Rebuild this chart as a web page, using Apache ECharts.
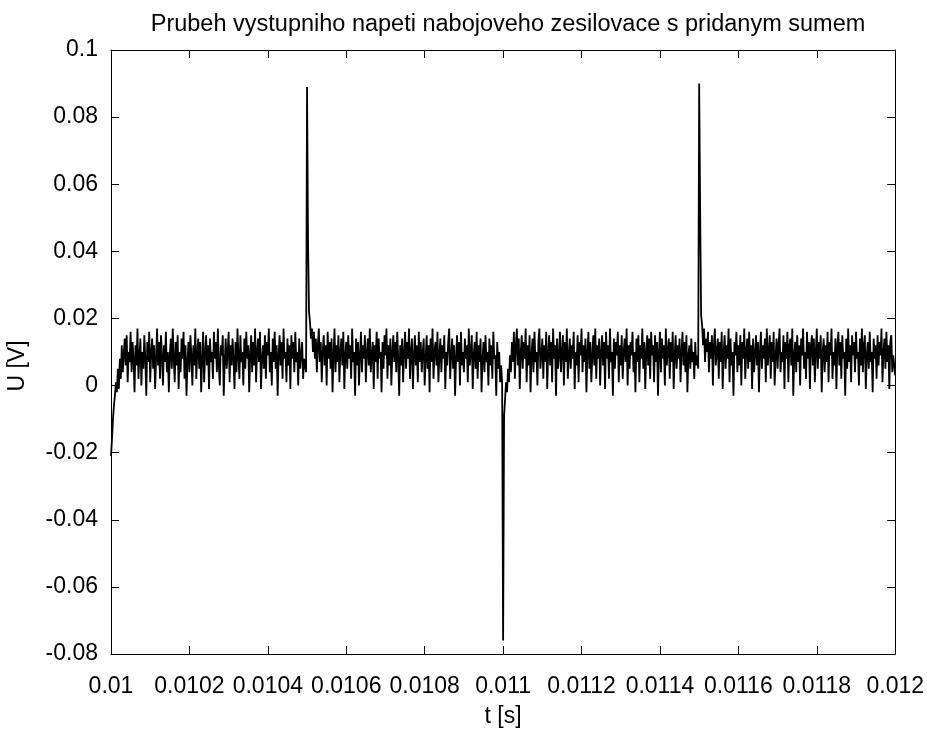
<!DOCTYPE html>
<html>
<head>
<meta charset="utf-8">
<title>Prubeh vystupniho napeti</title>
<script src="https://cdn.jsdelivr.net/npm/echarts@6/dist/echarts.min.js"></script>
<style>
  html, body { margin: 0; padding: 0; background: #fff; }
  #chart { width: 927px; height: 733px; }
</style>
</head>
<body>
<div id="chart"></div>
<script>
// Output voltage of the charge amplifier with added noise
const titleText = 'Prubeh vystupniho napeti nabojoveho zesilovace s pridanym sumem';
const xName = 't [s]';
const yName = 'U [V]';

// sampling: first sample time and step [s]
const t0 = 0.01;
const dt = 0.0000025;

// axis ranges and tick spacing
const xRange = [0.01, 0.012];
const xStep = 0.0002;
const yRange = [-0.08, 0.1];
const yStep = 0.02;

// measured output voltage [V], one value per sample
const u = [
  -0.021, -0.016, -0.010, -0.006, -0.003, 0.001, -0.002, 0.005, -0.001, 0.008, 0.002, 0.012, 0.004, 0.009, 0.014, 0.006, 0.015, 0.001, 0.010, 0.007,
  0.016, 0.004, 0.013, 0.008, -0.002, 0.012, 0.006, 0.017, 0.002, 0.009, 0.014, 0.000, 0.010, 0.005, 0.015, 0.008, -0.003, 0.013, 0.007, 0.016,
  0.001, 0.010, 0.014, 0.005, 0.012, -0.001, 0.008, 0.017, 0.006, 0.013, 0.002, 0.015, 0.009, 0.000, 0.012, 0.007, 0.016, 0.004, 0.010, -0.002,
  0.009, 0.014, 0.005, 0.017, 0.008, 0.001, 0.013, 0.006, 0.015, -0.001, 0.010, 0.004, 0.014, 0.008, 0.016, 0.002, 0.012, -0.003, 0.007, 0.013,
  0.004, 0.015, 0.009, 0.000, 0.012, 0.006, 0.017, 0.002, 0.010, 0.014, 0.005, 0.013, -0.002, 0.008, 0.016, 0.001, 0.009, 0.015, 0.006, 0.012,
  -0.001, 0.014, 0.007, 0.010, 0.002, 0.016, 0.008, 0.013, 0.004, 0.017, 0.006, 0.000, 0.012, 0.009, 0.015, -0.003, 0.007, 0.014, 0.005, 0.010,
  0.016, 0.001, 0.012, 0.006, 0.014, 0.008, -0.001, 0.013, 0.004, 0.017, 0.009, 0.002, 0.015, 0.007, 0.010, 0.000, 0.014, 0.005, 0.016, 0.008,
  0.012, -0.002, 0.009, 0.015, 0.004, 0.013, 0.006, 0.017, 0.001, 0.010, 0.014, 0.007, 0.016, -0.001, 0.008, 0.012, 0.005, 0.015, 0.002, 0.013,
  0.009, 0.017, 0.004, 0.010, 0.000, 0.014, 0.007, 0.016, 0.005, 0.012, -0.003, 0.009, 0.015, 0.006, 0.013, 0.002, 0.017, 0.008, 0.010, 0.001,
  0.014, 0.006, 0.012, -0.001, 0.015, 0.008, 0.013, 0.004, 0.016, 0.007, 0.010, 0.000, 0.014, 0.005, 0.009, 0.013, 0.002, 0.008, 0.006, 0.004,
  0.089, 0.043, 0.022, 0.019, 0.014, 0.017, 0.010, 0.016, 0.008, 0.014, 0.004, 0.012, 0.017, 0.007, 0.013, 0.001, 0.010, 0.015, 0.006, 0.012,
  0.000, 0.016, 0.008, 0.013, 0.005, 0.014, -0.002, 0.009, 0.017, 0.004, 0.012, 0.007, 0.015, 0.001, 0.010, 0.014, 0.006, 0.016, -0.001, 0.009,
  0.013, 0.005, 0.015, 0.008, 0.012, 0.002, 0.017, 0.007, 0.010, -0.003, 0.014, 0.006, 0.013, 0.000, 0.009, 0.016, 0.004, 0.012, 0.008, 0.015,
  0.001, 0.010, 0.014, 0.006, 0.017, 0.004, 0.009, 0.013, -0.001, 0.012, 0.007, 0.016, 0.002, 0.014, 0.008, 0.010, -0.002, 0.013, 0.005, 0.015,
  0.009, 0.017, 0.002, 0.012, 0.006, 0.014, 0.000, 0.010, 0.015, 0.007, 0.013, 0.004, 0.016, 0.008, -0.003, 0.012, 0.006, 0.014, 0.001, 0.010,
  0.016, 0.005, 0.013, 0.008, 0.017, 0.002, 0.010, 0.014, -0.001, 0.009, 0.015, 0.006, 0.012, 0.001, 0.016, 0.007, 0.013, 0.004, 0.010, 0.014,
  0.000, 0.008, 0.015, 0.005, 0.012, -0.002, 0.014, 0.007, 0.017, 0.002, 0.010, 0.013, 0.006, 0.016, 0.001, 0.009, 0.014, 0.004, 0.012, 0.008,
  0.015, -0.001, 0.010, 0.006, 0.013, 0.017, 0.002, 0.009, 0.014, 0.005, 0.012, -0.003, 0.008, 0.015, 0.007, 0.013, 0.000, 0.016, 0.006, 0.010,
  0.004, 0.014, 0.008, 0.012, 0.001, 0.017, 0.006, 0.010, 0.015, -0.001, 0.009, 0.013, 0.005, 0.016, 0.002, 0.012, 0.007, 0.014, -0.002, 0.008,
  0.013, 0.004, 0.015, 0.007, 0.010, 0.000, 0.014, 0.006, 0.012, 0.002, 0.016, 0.008, 0.009, -0.003, 0.013, 0.005, 0.010, 0.001, 0.006, 0.001,
  -0.076, -0.009, -0.004, 0.001, -0.002, 0.005, 0.001, 0.009, 0.004, 0.013, 0.007, 0.016, 0.002, 0.012, 0.017, 0.006, 0.014, -0.001, 0.010, 0.015,
  0.005, 0.013, 0.008, 0.017, 0.001, 0.012, 0.006, 0.015, -0.002, 0.009, 0.014, 0.004, 0.016, 0.007, 0.010, 0.000, 0.013, 0.017, 0.005, 0.009,
  0.014, 0.002, 0.012, 0.007, 0.016, -0.001, 0.010, 0.015, 0.006, 0.013, 0.001, 0.017, 0.008, 0.012, -0.003, 0.014, 0.005, 0.009, 0.016, 0.004,
  0.010, 0.015, 0.000, 0.013, 0.007, 0.017, 0.002, 0.009, 0.014, 0.005, 0.012, 0.008, 0.016, -0.001, 0.010, 0.006, 0.015, 0.001, 0.013, 0.009,
  0.017, 0.004, 0.012, 0.007, 0.014, -0.002, 0.010, 0.016, 0.005, 0.013, 0.001, 0.009, 0.015, 0.006, 0.017, 0.002, 0.012, 0.008, 0.014, 0.000,
  0.010, 0.015, 0.006, 0.013, -0.001, 0.016, 0.008, 0.012, 0.002, 0.017, 0.007, 0.010, -0.003, 0.014, 0.005, 0.013, 0.009, 0.016, 0.001, 0.012,
  0.006, 0.015, 0.002, 0.010, 0.014, 0.007, 0.017, 0.000, 0.012, 0.005, 0.013, 0.009, 0.016, 0.004, 0.010, -0.002, 0.014, 0.007, 0.015, 0.001,
  0.012, 0.008, 0.017, 0.005, 0.013, -0.001, 0.010, 0.015, 0.006, 0.014, 0.002, 0.016, 0.009, 0.012, 0.001, 0.015, 0.007, 0.013, -0.003, 0.010,
  0.016, 0.004, 0.014, 0.008, 0.012, 0.000, 0.017, 0.006, 0.010, 0.014, 0.002, 0.013, 0.007, 0.016, -0.001, 0.009, 0.015, 0.005, 0.012, 0.008,
  0.014, 0.001, 0.010, 0.016, 0.006, 0.013, 0.004, 0.015, -0.002, 0.009, 0.012, 0.005, 0.014, 0.007, 0.010, 0.002, 0.013, 0.006, 0.009, 0.005,
  0.090, 0.052, 0.021, 0.018, 0.012, 0.017, 0.007, 0.014, 0.010, 0.016, 0.004, 0.013, 0.008, 0.015, 0.000, 0.012, 0.017, 0.006, 0.010, 0.014,
  0.002, 0.013, 0.007, 0.016, -0.001, 0.010, 0.015, 0.005, 0.012, 0.008, 0.017, 0.001, 0.014, 0.006, 0.010, -0.003, 0.013, 0.009, 0.016, 0.004,
  0.012, 0.006, 0.015, 0.000, 0.013, 0.008, 0.017, 0.002, 0.010, 0.014, 0.005, 0.016, 0.007, 0.012, -0.001, 0.014, 0.004, 0.009, 0.015, 0.006,
  0.013, -0.002, 0.010, 0.016, 0.005, 0.012, 0.008, 0.014, 0.001, 0.017, 0.006, 0.010, 0.015, 0.002, 0.013, 0.007, 0.016, 0.000, 0.009, 0.014,
  0.005, 0.012, 0.017, 0.004, 0.010, 0.007, 0.015, -0.001, 0.013, 0.008, 0.016, 0.001, 0.012, 0.014, 0.006, 0.017, -0.003, 0.009, 0.013, 0.004,
  0.015, 0.007, 0.012, 0.000, 0.014, 0.009, 0.017, 0.005, 0.010, 0.002, 0.016, 0.008, 0.013, -0.001, 0.012, 0.015, 0.006, 0.014, 0.001, 0.010,
  0.017, 0.005, 0.013, 0.008, 0.015, -0.002, 0.010, 0.014, 0.004, 0.012, 0.007, 0.016, 0.001, 0.013, 0.009, 0.017, 0.002, 0.010, 0.006, 0.014,
  -0.001, 0.012, 0.016, 0.006, 0.013, 0.002, 0.015, 0.008, 0.010, -0.003, 0.014, 0.005, 0.017, 0.007, 0.012, 0.001, 0.015, 0.009, 0.013, 0.004,
  0.016, 0.008, 0.010, 0.000, 0.014, 0.006, 0.017, 0.004, 0.012, 0.015, -0.001, 0.009, 0.013, 0.005, 0.016, 0.007, 0.010, -0.002, 0.014, 0.008,
  0.012, 0.002, 0.015, 0.006, 0.013, 0.009, 0.017, 0.001, 0.010, 0.014, 0.005, 0.016, 0.007, 0.012, -0.001, 0.013, 0.015, 0.004, 0.009, 0.006,
  0.003
];

const FONT = 'Liberation Sans, Arial, Helvetica, sans-serif';
const fontSize = 23;
const tidy = v => String(parseFloat(Number(v).toFixed(6)));

const tickStyle = { show: true, inside: true, length: 8, lineStyle: { color: '#000', width: 1 } };
const lineStyle = { show: true, onZero: false, lineStyle: { color: '#000', width: 1 } };
const labelStyle = { color: '#000', fontFamily: FONT, fontSize: fontSize, formatter: tidy };

const chart = echarts.init(document.getElementById('chart'), null, { renderer: 'canvas' });

chart.setOption({
  backgroundColor: '#fff',
  animation: false,
  title: {
    text: titleText,
    left: 503,
    textAlign: 'center',
    top: 8,
    textStyle: { color: '#000', fontFamily: FONT, fontSize: 23.5, fontWeight: 'normal' }
  },
  grid: { left: 111, top: 50, right: 29, bottom: 63, containLabel: false },
  xAxis: [
    {
      type: 'value', position: 'bottom',
      min: xRange[0], max: xRange[1], interval: xStep,
      name: xName, nameLocation: 'middle', nameGap: 51,
      nameTextStyle: { color: '#000', fontFamily: FONT, fontSize: fontSize },
      axisLine: lineStyle, axisTick: tickStyle,
      axisLabel: Object.assign({ margin: 21, showMinLabel: true, showMaxLabel: true, hideOverlap: false }, labelStyle),
      splitLine: { show: false }
    },
    {
      type: 'value', position: 'top',
      min: xRange[0], max: xRange[1], interval: xStep,
      axisLine: lineStyle, axisTick: tickStyle,
      axisLabel: { show: false }, splitLine: { show: false }
    }
  ],
  yAxis: [
    {
      type: 'value', position: 'left',
      min: yRange[0], max: yRange[1], interval: yStep,
      axisLine: lineStyle, axisTick: tickStyle,
      axisLabel: Object.assign({ margin: 13, showMinLabel: true, showMaxLabel: true }, labelStyle),
      splitLine: { show: false }
    },
    {
      type: 'value', position: 'right',
      min: yRange[0], max: yRange[1], interval: yStep,
      axisLine: lineStyle, axisTick: tickStyle,
      axisLabel: { show: false }, splitLine: { show: false }
    }
  ],
  graphic: [{
    type: 'text',
    x: 18, y: 366,
    rotation: Math.PI / 2,
    style: {
      text: yName, fill: '#000',
      font: fontSize + 'px ' + FONT,
      textAlign: 'center', textVerticalAlign: 'middle'
    }
  }],
  series: [{
    type: 'line',
    xAxisIndex: 0, yAxisIndex: 0,
    showSymbol: false,
    sampling: null,
    lineStyle: { color: '#000', width: 1.8 },
    data: u.map((v, i) => [t0 + i * dt, v])
  }]
});
</script>
</body>
</html>
